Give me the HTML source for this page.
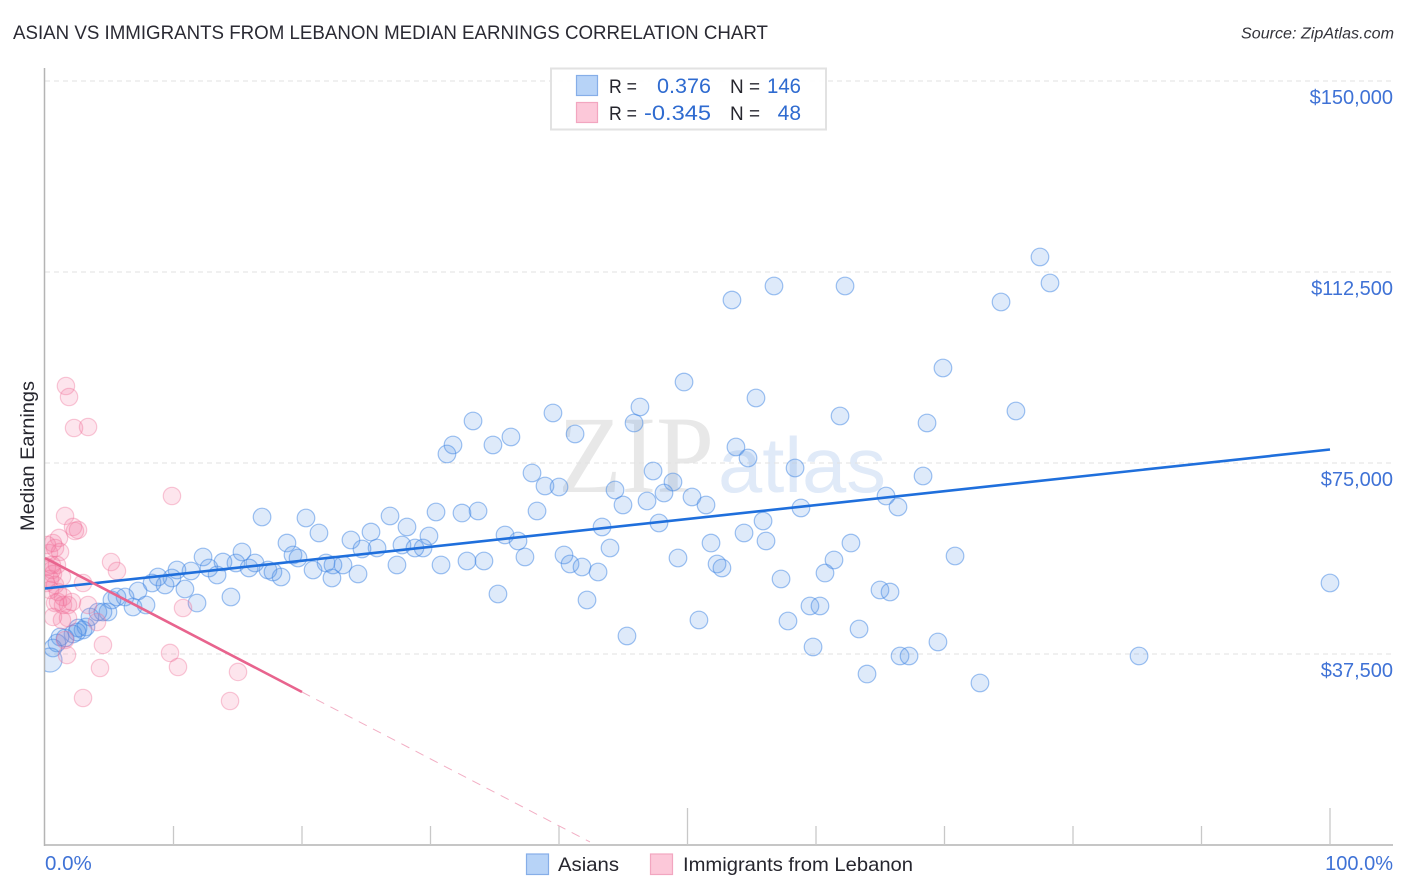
<!DOCTYPE html>
<html lang="en">
<head>
<meta charset="utf-8">
<title>Asian vs Immigrants from Lebanon Median Earnings Correlation Chart</title>
<style>
html,body{margin:0;padding:0;background:#fff;width:1406px;height:892px;overflow:hidden}
svg{display:block}
text{font-family:"Liberation Sans",sans-serif}
</style>
</head>
<body>
<svg id="chart" width="1406" height="892" viewBox="0 0 1406 892" xmlns="http://www.w3.org/2000/svg">
  <defs>
    <clipPath id="plot-clip"><rect x="45" y="68" width="1350" height="777"/></clipPath>
  </defs>
  <text x="13" y="39" font-size="19" fill="#2a2a33" textLength="755" lengthAdjust="spacingAndGlyphs">ASIAN VS IMMIGRANTS FROM LEBANON MEDIAN EARNINGS CORRELATION CHART</text>
  <text x="1394" y="38.5" font-size="15.5" font-style="italic" fill="#33333b" text-anchor="end" textLength="153" lengthAdjust="spacingAndGlyphs">Source: ZipAtlas.com</text>

  <g>
    <text x="558" y="492" font-size="110" fill="#e8e8e8" style="font-family:'Liberation Serif',serif" textLength="156" lengthAdjust="spacingAndGlyphs">ZIP</text>
    <text x="718" y="492" font-size="78" fill="#e0eaf8" textLength="168" lengthAdjust="spacingAndGlyphs">atlas</text>
  </g>

  <g id="grid"></g>
  <g id="axes"></g>
  <g id="asian-points" clip-path="url(#plot-clip)"></g>
  <g id="lebanon-points" clip-path="url(#plot-clip)"></g>
  <g id="trends"></g>
  <g id="labels"></g>

  <text transform="translate(34,456) rotate(-90)" font-size="19" fill="#26262e" text-anchor="middle" textLength="150" lengthAdjust="spacingAndGlyphs">Median Earnings</text>

  <g>
    <rect x="551" y="68.5" width="275" height="61" fill="#fff" fill-opacity="0.9" stroke="#e2e2e2" stroke-width="2"/>
    <rect x="576.5" y="75.5" width="21" height="20" fill="#b7d3f7" stroke="#86aee8" stroke-width="1.2"/>
    <rect x="576.5" y="102.5" width="21" height="20" fill="#fcc8d9" stroke="#f2a6c0" stroke-width="1.2"/>
    <text x="609" y="93" font-size="19.5" fill="#26262e" textLength="28" lengthAdjust="spacingAndGlyphs">R =</text>
    <text x="711" y="93" font-size="21.5" fill="#2f6bd0" text-anchor="end" textLength="54" lengthAdjust="spacingAndGlyphs">0.376</text>
    <text x="730" y="93" font-size="19.5" fill="#26262e" textLength="30" lengthAdjust="spacingAndGlyphs">N =</text>
    <text x="801" y="93" font-size="21" fill="#2f6bd0" text-anchor="end" textLength="34" lengthAdjust="spacingAndGlyphs">146</text>
    <text x="609" y="120" font-size="19.5" fill="#26262e" textLength="28" lengthAdjust="spacingAndGlyphs">R =</text>
    <text x="711" y="120" font-size="21.5" fill="#2f6bd0" text-anchor="end" textLength="67" lengthAdjust="spacingAndGlyphs">-0.345</text>
    <text x="730" y="120" font-size="19.5" fill="#26262e" textLength="30" lengthAdjust="spacingAndGlyphs">N =</text>
    <text x="801" y="120" font-size="21" fill="#2f6bd0" text-anchor="end">48</text>
  </g>

  <g>
    <rect x="526.5" y="854" width="22" height="20.5" fill="#b7d3f7" stroke="#86aee8" stroke-width="1.2"/>
    <text x="558" y="871" font-size="19.5" fill="#26262e" textLength="61" lengthAdjust="spacingAndGlyphs">Asians</text>
    <rect x="650.5" y="854" width="22" height="20.5" fill="#fcc8d9" stroke="#f2a6c0" stroke-width="1.2"/>
    <text x="683" y="871" font-size="19.5" fill="#26262e" textLength="230" lengthAdjust="spacingAndGlyphs">Immigrants from Lebanon</text>
  </g>
</svg>

<script>
// ---- chart data (x: percent of immigrants, y: median earnings in $ thousands) ----
const yTickValues = [37.5, 75, 112.5, 150];
const yTickLabels = ["$37,500", "$75,000", "$112,500", "$150,000"];
const xTickValues = [0, 10, 20, 30, 40, 50, 60, 70, 80, 90, 100];
const xEndLabels = ["0.0%", "100.0%"];

const asianX = [77.43,78.21,56.73,62.26,74.40,53.46,69.88,49.73,55.33,46.30,75.56,39.53,61.87,33.31,68.64,45.84,36.26,41.25,34.86,31.75,31.28,53.77,54.71,58.37,47.32,48.87,37.90,38.91,40.00,68.33,44.36,48.17,46.85,50.35,51.44,44.98,38.29,30.43,32.45,33.70,65.45,66.38,58.83,26.85,16.89,20.31,55.88,47.78,28.17,21.32,25.37,54.40,43.35,35.80,29.88,36.81,23.81,56.11,62.72,51.83,18.83,27.78,25.84,24.67,29.42,28.79,43.97,15.33,12.30,19.30,19.69,13.85,16.34,14.86,40.39,37.35,49.26,70.82,32.84,34.16,30.82,27.39,61.40,52.30,52.68,40.86,41.79,43.04,21.87,23.19,22.41,20.86,17.35,15.88,12.76,13.39,11.36,10.27,9.88,8.79,24.36,22.33,18.37,17.74,57.28,60.70,100.00,64.98,65.76,8.33,7.24,9.34,10.89,35.25,14.47,11.83,42.18,59.53,60.31,6.23,5.60,6.85,7.86,4.90,4.12,4.51,5.21,3.50,50.89,57.82,63.35,45.29,2.96,3.19,2.57,2.49,2.18,1.56,1.17,69.49,59.77,85.14,66.54,67.24,63.97,72.76,0.93,0.62,0.39];
const asianY = [115.45,110.34,109.75,109.75,106.61,107.00,93.65,90.90,87.76,86.00,85.21,84.82,84.23,83.25,82.86,82.86,80.11,80.70,78.54,78.54,76.77,78.14,75.98,74.02,73.43,71.27,73.04,70.49,70.29,72.45,69.70,69.11,67.54,68.33,66.76,66.76,65.58,65.38,65.18,65.58,68.52,66.36,66.17,64.60,64.40,64.20,63.61,63.22,62.44,61.26,61.45,61.26,62.44,60.87,60.67,59.69,59.88,59.69,59.29,59.29,59.29,58.90,58.31,58.12,58.31,58.31,58.31,57.53,56.55,56.94,56.35,55.56,55.37,55.37,56.94,56.55,56.35,56.74,55.76,55.76,54.98,54.98,55.96,55.17,54.39,55.17,54.58,53.60,55.37,54.98,54.98,53.99,53.99,54.39,54.39,53.01,53.80,53.99,52.42,52.62,53.21,52.42,52.62,53.60,52.23,53.40,51.44,50.07,49.67,51.44,49.87,51.05,50.26,49.28,48.69,47.51,48.10,46.93,46.93,48.69,48.69,46.73,47.12,45.75,45.75,45.75,48.10,44.77,44.18,43.98,42.41,41.04,42.21,42.80,42.60,41.82,41.43,40.64,40.84,39.86,38.88,37.11,37.11,37.11,33.57,31.81,39.66,38.68,36.32];

const lebanonX = [1.63,1.87,2.26,3.35,9.88,1.56,2.18,2.57,2.33,1.09,0.62,0.16,0.78,1.17,0.31,5.14,5.60,0.54,0.16,0.93,0.54,0.62,1.32,0.39,0.08,2.96,0.78,0.39,1.01,1.40,2.10,1.01,1.40,1.79,0.78,3.35,10.74,4.05,1.79,0.62,1.32,4.51,9.73,10.35,4.28,15.02,2.96,14.40,1.71,1.56];
const lebanonY = [90.12,87.96,81.87,82.07,68.52,64.60,62.44,61.85,61.65,60.28,59.29,58.90,58.31,57.53,57.33,55.56,53.80,54.98,54.58,54.98,53.99,53.21,52.62,52.23,51.44,51.44,51.05,50.07,49.67,48.69,47.71,47.71,47.12,47.12,47.51,47.12,46.53,43.78,44.57,44.77,44.18,39.27,37.70,34.95,34.75,33.97,28.86,28.27,37.30,40.25];

const asianTrendX = [0, 100];
const asianTrendY = [50.36, 77.65];
const lebanonTrendX = [0, 20];
const lebanonTrendY = [56.35, 30.04];
const lebanonDashX = [20, 42.41];
const lebanonDashY = [30.04, 0.6];

// ---- axis functions ----
const NS = "http://www.w3.org/2000/svg";
function xScale(v){ return 45 + v * 12.85; }
function yScale(v){ return 845 - v * 191 / 37.5; }
function make(tag, attrs, parent){
  const el = document.createElementNS(NS, tag);
  for (const k in attrs) el.setAttribute(k, attrs[k]);
  parent.appendChild(el);
  return el;
}

const grid = document.getElementById("grid");
const axes = document.getElementById("axes");
const labels = document.getElementById("labels");

yTickValues.forEach(function(v, i){
  const line = make("line", {x1:45, x2:1393, y1:yScale(v), y2:yScale(v), stroke:"#e2e2e2", "stroke-width":1, "stroke-dasharray":"5 4"}, grid);
  
  
  const t = make("text", {x:1393, y:yScale(v) + 23, "font-size":20, fill:"#3f72d6", "text-anchor":"end"}, labels);
  t.textContent = yTickLabels[i];
  
  
});

const yAxis = make("line", {x1:44.5, x2:44.5, y1:68, y2:846, stroke:"#b4b4b4", "stroke-width":1.5}, axes);


const xAxis = make("line", {x1:44, x2:1393, y1:845, y2:845, stroke:"#b4b4b4", "stroke-width":1.5}, axes);



xTickValues.forEach(function(v){
  if (v === 0) return;
  const top = (v === 50 || v === 100) ? 808 : 826;
  const tick = make("line", {x1:xScale(v), x2:xScale(v), y1:top, y2:845, stroke:"#c8c8c8", "stroke-width":1.3}, axes);
  
  
});

const xLabelLeft = make("text", {x:45, y:870, "font-size":20.5, fill:"#3f72d6"}, labels);
xLabelLeft.textContent = xEndLabels[0];


const xLabelRight = make("text", {x:1393, y:870, "font-size":20, fill:"#3f72d6", "text-anchor":"end"}, labels);
xLabelRight.textContent = xEndLabels[1];



// ---- points ----
const asianGroup = document.getElementById("asian-points");
asianX.forEach(function(x, i){
  const big = i === asianX.length - 1;
  const c = make("circle", {cx:xScale(x), cy:yScale(asianY[i]), r:big ? 12 : 8.8, fill:"#5a98e8", "fill-opacity":0.2, stroke:"#3f86e4", "stroke-opacity":0.5, "stroke-width":1.2}, asianGroup);
  
  
});

const lebanonGroup = document.getElementById("lebanon-points");
lebanonX.forEach(function(x, i){
  const c = make("circle", {cx:xScale(x), cy:yScale(lebanonY[i]), r:8.7, fill:"#f2709a", "fill-opacity":0.18, stroke:"#f07098", "stroke-opacity":0.38, "stroke-width":1.2}, lebanonGroup);
  
  
});

// ---- trend lines ----
const trends = document.getElementById("trends");
const asianTrend = make("line", {x1:xScale(asianTrendX[0]), y1:yScale(asianTrendY[0]), x2:xScale(asianTrendX[1]), y2:yScale(asianTrendY[1]), stroke:"#1f6fdc", "stroke-width":2.6}, trends);


const lebanonTrend = make("line", {x1:xScale(lebanonTrendX[0]), y1:yScale(lebanonTrendY[0]), x2:xScale(lebanonTrendX[1]), y2:yScale(lebanonTrendY[1]), stroke:"#e8648e", "stroke-width":2.6}, trends);


const lebanonDash = make("line", {x1:xScale(lebanonDashX[0]), y1:yScale(lebanonDashY[0]), x2:xScale(lebanonDashX[1]), y2:yScale(lebanonDashY[1]), stroke:"#f2aec4", "stroke-width":1, "stroke-dasharray":"9 7"}, trends);


</script>
</body>
</html>
